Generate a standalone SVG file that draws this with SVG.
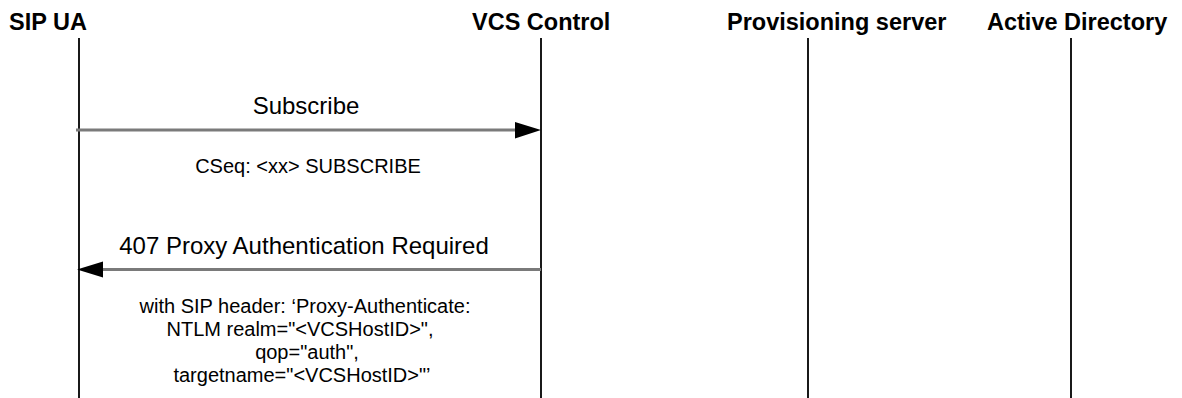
<svg xmlns="http://www.w3.org/2000/svg" width="1182" height="398" viewBox="0 0 1182 398">
<style>
.hdr{font-family:"Liberation Sans",Arial,sans-serif;font-weight:bold;font-size:23.5px;fill:#000}
.life{stroke:#000;stroke-width:1.8;fill:none}
.msg{stroke:#7a7a7a;stroke-width:3;fill:none}
.lbl{font-family:"Liberation Sans",Arial,sans-serif;font-size:24px;fill:#000;text-anchor:middle}
.note{font-family:"Liberation Sans",Arial,sans-serif;font-size:20px;fill:#000;text-anchor:middle}
.head{fill:#000}
</style>
<rect width="1182" height="398" fill="#fff"/>
<g id="sip-ua">
<text class="hdr" x="9" y="30">SIP UA</text>
<line class="life" x1="79" y1="38" x2="79" y2="398"/>
</g>
<g id="vcs-control">
<text class="hdr" x="472" y="30">VCS Control</text>
<line class="life" x1="541" y1="38" x2="541" y2="398"/>
</g>
<g id="provisioning-server">
<text class="hdr" x="727" y="30">Provisioning server</text>
<line class="life" x1="808" y1="38" x2="808" y2="398"/>
</g>
<g id="active-directory">
<text class="hdr" x="987" y="30">Active Directory</text>
<line class="life" x1="1071" y1="38" x2="1071" y2="398"/>
</g>
<g id="connectors">
<g id="msg-subscribe">
<line class="msg" x1="76" y1="130" x2="517" y2="130"/>
<polygon class="head" points="515,122 541,130 515,138.5"/>
<text class="lbl" x="306" y="114">Subscribe</text>
<text class="note" x="308" y="173">CSeq: &lt;xx&gt; SUBSCRIBE</text>
</g>
<g id="msg-407">
<line class="msg" x1="541" y1="269.5" x2="101" y2="269.5"/>
<polygon class="head" points="103,261.5 77,269.5 103,277.5"/>
<text class="lbl" x="304" y="254">407 Proxy Authentication Required</text>
<text class="note" x="305" y="313">with SIP header: ‘Proxy-Authenticate:</text>
<text class="note" x="300" y="336">NTLM realm="&lt;VCSHostID&gt;",</text>
<text class="note" x="307" y="359">qop="auth",</text>
<text class="note" x="302" y="382">targetname="&lt;VCSHostID&gt;"’</text>
</g>
</g>
</svg>
